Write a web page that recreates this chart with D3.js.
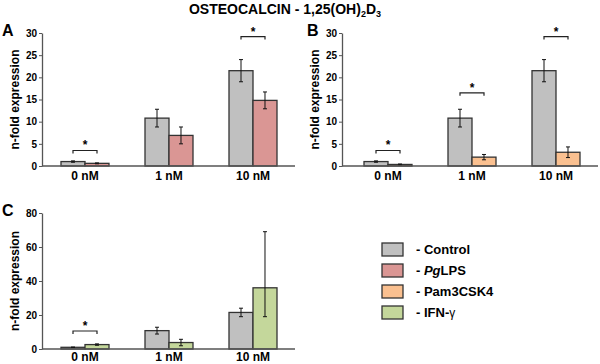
<!DOCTYPE html>
<html>
<head>
<meta charset="utf-8">
<script src="https://cdn.jsdelivr.net/npm/d3@7"></script>
<style>
  body { margin: 0; background: #fff; }
  svg { font-family: Arial, "Liberation Sans", sans-serif; }
</style>
</head>
<body>
<svg width="600" height="364"></svg>
<script>
// doses on the x axis
const doses = ['0 nM', '1 nM', '10 nM'];

// n-fold expression, mean and error
const control = [1.0, 10.8, 21.5];
const controlErr = [0.15, 2.0, 2.5];
const pgLPS = [0.6, 6.9, 14.8];
const pgLPSErr = [0.1, 1.9, 1.9];
const pam3 = [0.35, 2.0, 3.1];
const pam3Err = [0.1, 0.6, 1.2];
const ifng = [2.6, 3.8, 36.0];
const ifngErrLow = [0.4, 1.9, 17.0];
const ifngErrHigh = [0.4, 1.9, 33.0];

// significance brackets: dose and bracket height (in data units)
const sigA = [['0 nM', 3.5], ['10 nM', 29.2]];
const sigB = [['0 nM', 3.5], ['1 nM', 16.5], ['10 nM', 29.2]];
const sigC = [['0 nM', 10.6]];

const yTicksAB = [0, 5, 10, 15, 20, 25, 30];
const yTicksC = [0, 20, 40, 60, 80];

const colors = {
    control: '#c0c0c0',
    pg: '#da9694',
    pam: '#fac090',
    ifn: '#c4d79b'
};

const svg = d3.select('svg');

// title with sub-scripts
const title = svg.append('text')
    .attr('x', 285)
    .attr('y', 14)
    .attr('text-anchor', 'middle')
    .style('font-size', '14px')
    .style('font-weight', 'bold');
title.append('tspan').text('OSTEOCALCIN - 1,25(OH)');
title.append('tspan').text('2').attr('dy', 3).style('font-size', '9px');
title.append('tspan').text('D').attr('dy', -3);
title.append('tspan').text('3').attr('dy', 3).style('font-size', '9px');

function drawPanel(opt) {
    const g = svg.append('g').attr('id', 'panel' + opt.label);

    const x = d3.scaleBand()
        .domain(doses)
        .range([opt.x0, opt.x0 + 252])
        .paddingInner(0.4286)
        .paddingOuter(0.2143);

    const sub = d3.scaleBand()
        .domain([0, 1])
        .range([0, x.bandwidth()]);

    const y = d3.scaleLinear()
        .domain([0, opt.yMax])
        .range([opt.yBottom, opt.yTop]);

    // bars
    const series = [
        { vals: control, lo: controlErr, hi: controlErr, color: colors.control },
        { vals: opt.vals, lo: opt.lo, hi: opt.hi, color: opt.color }
    ];

    series.forEach((s, si) => {
        const rows = doses.map((d, i) => ({ d, v: s.vals[i], lo: s.lo[i], hi: s.hi[i] }));

        g.append('g')
            .selectAll('rect')
            .data(rows)
            .join('rect')
            .attr('x', r => x(r.d) + sub(si))
            .attr('y', r => y(r.v))
            .attr('width', sub.bandwidth())
            .attr('height', r => y(0) - y(r.v))
            .style('fill', s.color)
            .style('stroke', '#333')
            .style('stroke-width', '1.3');

        const eb = g.append('g')
            .selectAll('g')
            .data(rows)
            .join('g')
            .attr('transform', r => `translate(${x(r.d) + sub(si) + sub.bandwidth() / 2},0)`);

        eb.append('line')
            .attr('y1', r => y(r.v + r.hi))
            .attr('y2', r => y(r.v - r.lo))
            .style('stroke', '#111')
            .style('stroke-width', '1');
        eb.append('line')
            .attr('x1', -2).attr('x2', 2)
            .attr('y1', r => y(r.v + r.hi)).attr('y2', r => y(r.v + r.hi))
            .style('stroke', '#111');
        eb.append('line')
            .attr('x1', -2).attr('x2', 2)
            .attr('y1', r => y(r.v - r.lo)).attr('y2', r => y(r.v - r.lo))
            .style('stroke', '#111');
    });

    // significance brackets
    const br = g.append('g')
        .selectAll('g')
        .data(opt.sig)
        .join('g');

    br.append('path')
        .attr('d', s => {
            const xa = x(s[0]) + sub.bandwidth() / 2;
            const xb = x(s[0]) + sub.bandwidth() * 1.5;
            const yy = y(s[1]);
            return `M${xa},${yy + 3}V${yy}H${xb}V${yy + 3}`;
        })
        .style('fill', 'none')
        .style('stroke', '#222')
        .style('stroke-width', '1.2');

    br.append('text')
        .attr('x', s => x(s[0]) + x.bandwidth() / 2)
        .attr('y', s => y(s[1]) - 1)
        .attr('text-anchor', 'middle')
        .style('font-size', '12px')
        .style('font-weight', 'bold')
        .text('*');

    // y axis
    const yAxis = g.append('g')
        .attr('transform', `translate(${opt.axisX},0)`)
        .call(d3.axisLeft(y).tickValues(opt.ticks).tickSize(3).tickPadding(2).tickSizeOuter(0));
    yAxis.select('.domain').style('stroke', '#555').style('stroke-width', '1.3');
    yAxis.selectAll('.tick line').style('stroke', '#555');
    yAxis.selectAll('text')
        .style('font-size', '10px')
        .style('font-weight', 'bold')
        .style('font-family', 'Arial, "Liberation Sans", sans-serif');

    // x axis
    const xAxis = g.append('g')
        .attr('transform', `translate(0,${opt.yBottom})`)
        .call(d3.axisBottom(x).tickSize(0).tickPadding(opt.labelPad));
    xAxis.select('.domain').remove();
    xAxis.append('line')
        .attr('x1', opt.axisX)
        .attr('x2', opt.x0 + 252)
        .style('stroke', '#555')
        .style('stroke-width', '1.3');
    xAxis.selectAll('text')
        .style('font-size', '12px')
        .style('font-weight', 'bold')
        .style('fill', '#000')
        .style('font-family', 'Arial, "Liberation Sans", sans-serif');

    // y label
    g.append('text')
        .attr('transform', `translate(${opt.axisX - 27},${(opt.yTop + opt.yBottom) / 2}) rotate(-90)`)
        .attr('text-anchor', 'middle')
        .attr('dy', '0.35em')
        .style('font-size', '12px')
        .style('font-weight', 'bold')
        .text('n-fold expression');

    // panel letter
    g.append('text')
        .attr('x', opt.letterX)
        .attr('y', opt.yTop + 3)
        .style('font-size', '16px')
        .style('font-weight', 'bold')
        .text(opt.label);
}

drawPanel({ label: 'A', letterX: 2, axisX: 42, x0: 43, yTop: 33, yBottom: 166, yMax: 30, ticks: yTicksAB,
    labelPad: 5, vals: pgLPS, lo: pgLPSErr, hi: pgLPSErr, color: colors.pg, sig: sigA });
drawPanel({ label: 'B', letterX: 307, axisX: 342, x0: 346, yTop: 33, yBottom: 166, yMax: 30, ticks: yTicksAB,
    labelPad: 5, vals: pam3, lo: pam3Err, hi: pam3Err, color: colors.pam, sig: sigB });
drawPanel({ label: 'C', letterX: 2, axisX: 42, x0: 43, yTop: 213, yBottom: 349, yMax: 80, ticks: yTicksC,
    labelPad: 3, vals: ifng, lo: ifngErrLow, hi: ifngErrHigh, color: colors.ifn, sig: sigC });

// legend
const legendItems = [
    { key: 'control', parts: [['- Control', 'normal']] },
    { key: 'pg', parts: [['- ', 'normal'], ['Pg', 'italic'], ['LPS', 'normal']] },
    { key: 'pam', parts: [['- Pam3CSK4', 'normal']] },
    { key: 'ifn', parts: [['- IFN-', 'normal'], ['\u03b3', 'greek']] }
];

const legend = svg.append('g')
    .attr('transform', 'translate(382,243)')
    .selectAll('g')
    .data(legendItems)
    .join('g')
    .attr('transform', (d, i) => `translate(0,${i * 21})`);

legend.append('rect')
    .attr('width', 21)
    .attr('height', 13)
    .style('fill', d => colors[d.key])
    .style('stroke', '#333')
    .style('stroke-width', '1.3');

legend.append('text')
    .attr('x', 34)
    .attr('y', 11)
    .style('font-size', '13px')
    .style('font-weight', 'bold')
    .each(function (d) {
        const t = d3.select(this);
        d.parts.forEach(p => {
            const ts = t.append('tspan').text(p[0]);
            if (p[1] === 'italic') ts.style('font-style', 'italic');
            if (p[1] === 'greek') ts.style('font-weight', 'normal').style('font-size', '12px');
        });
    });
</script>
</body>
</html>
